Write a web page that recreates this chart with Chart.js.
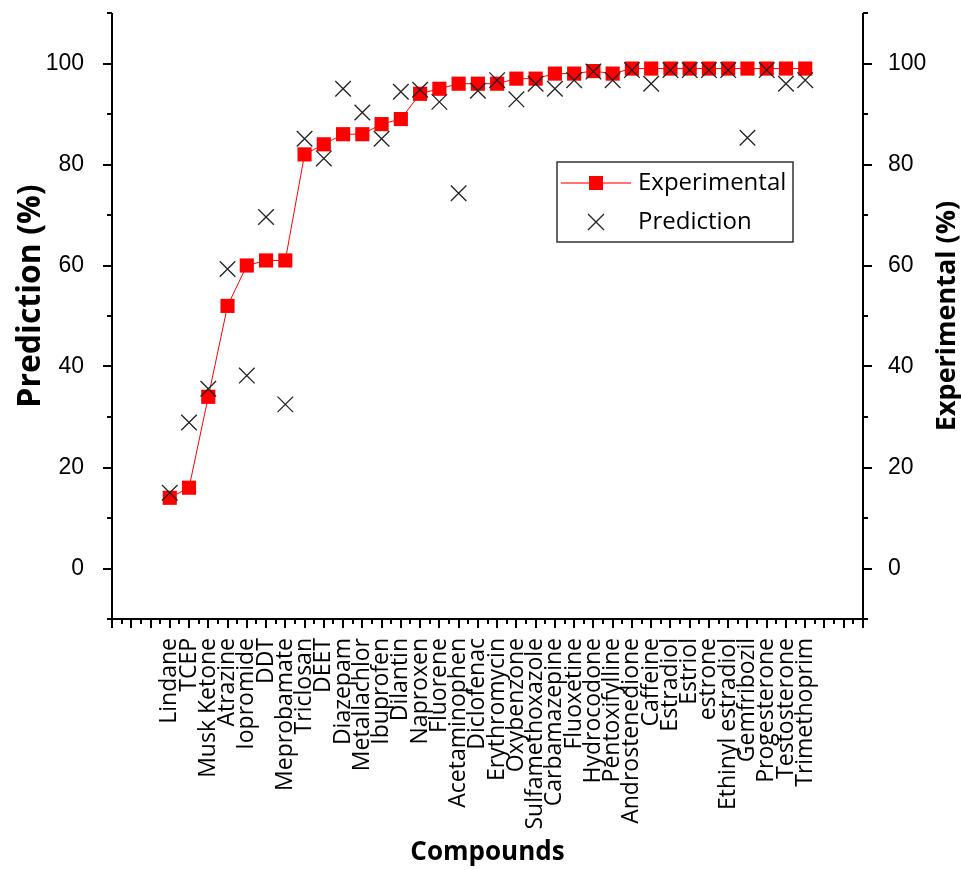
<!DOCTYPE html>
<html>
<head>
<meta charset="utf-8">
<script src="https://cdn.jsdelivr.net/npm/chart.js@4.4.0/dist/chart.umd.min.js"></script>
<style>
  html, body { margin: 0; padding: 0; background: #fff; }
</style>
</head>
<body>
<canvas id="compoundChart" width="961" height="870"></canvas>
<script>
// compounds along the x axis
const compounds = ["Lindane", "TCEP", "Musk Ketone", "Atrazine", "Iopromide", "DDT", "Meprobamate",
  "Triclosan", "DEET", "Diazepam", "Metallachlor", "Ibuprofen", "Dilantin", "Naproxen", "Fluorene",
  "Acetaminophen", "Diclofenac", "Erythromycin", "Oxybenzone", "Sulfamethoxazole", "Carbamazepine",
  "Fluoxetine", "Hydrocodone", "Pentoxifylline", "Androstenedione", "Caffeine", "Estradiol", "Estriol",
  "estrone", "Ethinyl estradiol", "Gemfribozil", "Progesterone", "Testosterone", "Trimethoprim"];

// removal (%)
const experimental = [14, 16, 34, 52, 60, 61, 61, 82, 84, 86, 86, 88, 89, 94, 95, 96, 96, 96, 97, 97,
  98, 98, 98.5, 98, 99, 99, 99, 99, 99, 99, 99, 99, 99, 99];
const prediction = [15.0, 28.9, 35.6, 59.3, 38.2, 69.6, 32.5, 85.1, 81.2, 95.0, 90.3, 85.1, 94.4, 94.8,
  92.4, 74.3, 94.6, 96.7, 92.9, 96.0, 95.0, 96.7, 98.4, 96.7, 98.7, 96.0, 98.7, 98.7, 98.7, 98.7,
  85.3, 98.7, 96.0, 96.7];

const yTicks = [0, 20, 40, 60, 80, 100];
const yMinorTicks = [-10, 10, 30, 50, 70, 90, 110];

const TICK_FONT = { family: "Liberation Sans", size: 23 };
const LABEL_FONT = "Open Sans";

// axis lines + outward ticks (major and minor)
const axisFrame = {
  id: 'axisFrame',
  beforeDatasetsDraw(chart) {
    const { ctx, chartArea: ca, scales: { x, y } } = chart;
    ctx.save();
    ctx.strokeStyle = '#000';
    ctx.lineWidth = 2;
    ctx.beginPath();
    ctx.moveTo(ca.left, ca.top);
    ctx.lineTo(ca.left, ca.bottom);
    ctx.lineTo(ca.right, ca.bottom);
    ctx.lineTo(ca.right, ca.top);
    ctx.stroke();

    ctx.beginPath();
    const yTick = (v, len) => {
      const py = Math.round(y.getPixelForValue(v));
      ctx.moveTo(ca.left, py); ctx.lineTo(ca.left - len, py);
      ctx.moveTo(ca.right, py); ctx.lineTo(ca.right + len, py);
    };
    yTicks.forEach(v => yTick(v, 9));
    yMinorTicks.forEach(v => yTick(v, 5));
    for (let v = Math.ceil(x.min); v <= x.max; v++) {
      const px = Math.round(x.getPixelForValue(v));
      ctx.moveTo(px, ca.bottom); ctx.lineTo(px, ca.bottom + 9);
      if (v + 0.5 < x.max) {
        const pm = Math.round(x.getPixelForValue(v + 0.5));
        ctx.moveTo(pm, ca.bottom); ctx.lineTo(pm, ca.bottom + 5);
      }
    }
    ctx.stroke();
    ctx.restore();
  },
  afterDraw(chart) {
    const { ctx, chartArea: ca } = chart;
    const mid = (ca.top + ca.bottom) / 2;
    // axis titles, both reading bottom to top
    const title = (text, size, cx, cy) => {
      ctx.save();
      ctx.fillStyle = '#000';
      ctx.font = "bold " + size + "px '" + LABEL_FONT + "'";
      ctx.textAlign = 'center';
      ctx.textBaseline = 'middle';
      ctx.translate(cx, cy);
      ctx.rotate(-Math.PI / 2);
      ctx.fillText(text, 0, 0);
      ctx.restore();
    };
    title('Prediction (%)', 32, 31, mid - 20);
    title('Experimental (%)', 27, 947, mid);
  }
};

// boxed legend inside the plot
const legendBox = {
  id: 'legendBox',
  afterDraw(chart) {
    const { ctx, chartArea: ca } = chart;
    const left = ca.left + 445, top = ca.top + 149, w = 236, h = 80;
    ctx.save();
    ctx.strokeStyle = '#333';
    ctx.lineWidth = 1.5;
    ctx.strokeRect(left, top, w, h);
    ctx.font = "24px '" + LABEL_FONT + "'";
    ctx.textBaseline = 'middle';

    const ds = chart.data.datasets;
    const rows = [top + 21, top + 60];
    const mx = left + 39;
    // Experimental: line + square
    ctx.strokeStyle = 'rgba(255,0,0,0.55)';
    ctx.lineWidth = 2;
    ctx.beginPath();
    ctx.moveTo(left + 4, rows[0]); ctx.lineTo(left + 74, rows[0]);
    ctx.stroke();
    ctx.fillStyle = ds[0].backgroundColor;
    ctx.fillRect(mx - 7, rows[0] - 7, 14, 14);
    // Prediction: cross
    ctx.strokeStyle = ds[1].borderColor;
    ctx.lineWidth = 1.3;
    ctx.beginPath();
    ctx.moveTo(mx - 8, rows[1] - 8); ctx.lineTo(mx + 8, rows[1] + 8);
    ctx.moveTo(mx + 8, rows[1] - 8); ctx.lineTo(mx - 8, rows[1] + 8);
    ctx.stroke();

    ctx.fillStyle = '#000';
    ctx.fillText(ds[0].label, left + 81, rows[0]);
    ctx.fillText(ds[1].label, left + 81, rows[1]);
    ctx.restore();
  }
};

const yAxis = (position, width, pad) => ({
  position: position,
  min: -10,
  max: 110,
  grid: { display: false },
  border: { display: false },
  afterBuildTicks: s => { s.ticks = yTicks.map(v => ({ value: v })); },
  afterFit: s => { s.width = width; s.paddingTop = 0; s.paddingBottom = 0; },
  ticks: { padding: pad, color: '#000', font: TICK_FONT }
});

new Chart(document.getElementById('compoundChart'), {
  type: 'line',
  data: {
    datasets: [{
      label: 'Experimental',
      data: experimental.map((v, i) => ({ x: i, y: v })),
      borderColor: '#ff0000',
      backgroundColor: '#ff0000',
      borderWidth: 1,
      pointStyle: 'rect',
      pointRadius: 10,
      pointBorderWidth: 0,
      yAxisID: 'y',
      order: 2
    }, {
      label: 'Prediction',
      data: prediction.map((v, i) => ({ x: i, y: v })),
      showLine: false,
      borderColor: '#222',
      backgroundColor: '#222',
      pointStyle: 'crossRot',
      pointRadius: 11,
      pointBorderWidth: 1.3,
      yAxisID: 'y',
      order: 1
    }]
  },
  options: {
    responsive: false,
    animation: false,
    events: [],
    layout: { padding: { top: 13, left: 0, right: 0, bottom: 0 } },
    plugins: { legend: { display: false }, tooltip: { enabled: false } },
    scales: {
      x: {
        type: 'linear',
        min: -3,
        max: 36,
        grid: { display: false },
        border: { display: false },
        afterBuildTicks: s => { s.ticks = compounds.map((c, i) => ({ value: i })); },
        afterFit: s => { s.height = 251; s.paddingLeft = 0; s.paddingRight = 0; },
        ticks: {
          autoSkip: false,
          minRotation: 90,
          maxRotation: 90,
          padding: 11,
          color: '#000',
          font: { family: LABEL_FONT, size: 23 },
          callback: v => compounds[v] ?? ''
        },
        title: {
          display: true,
          text: 'Compounds',
          color: '#000',
          font: { family: LABEL_FONT, size: 26, weight: 'bold' },
          padding: { top: 0, bottom: 2 }
        }
      },
      y: yAxis('left', 112, 20),
      y2: yAxis('right', 98, 17)
    }
  },
  plugins: [axisFrame, legendBox]
});
</script>
</body>
</html>
